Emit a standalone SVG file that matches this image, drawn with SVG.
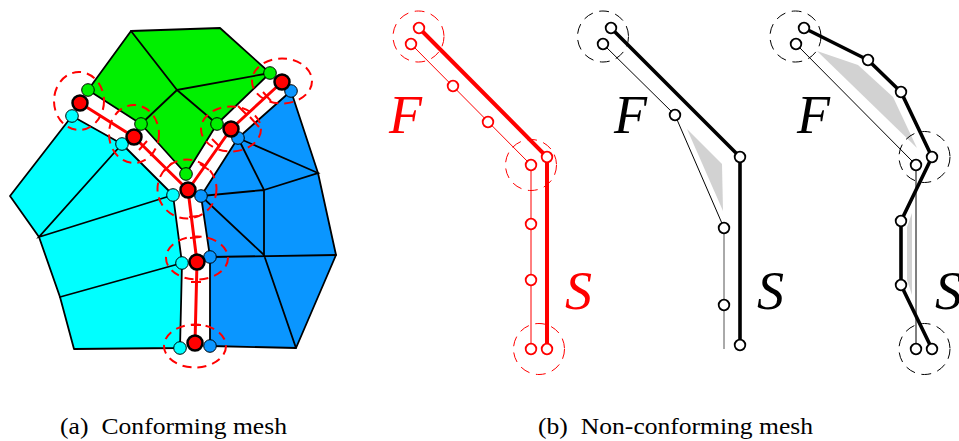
<svg xmlns="http://www.w3.org/2000/svg" width="959" height="441" viewBox="0 0 959 441">
<style>
.mesh{stroke:#000;stroke-width:1.8;stroke-linejoin:round;stroke-linecap:round}
.in{fill:none;stroke:#000;stroke-width:1.8;stroke-linecap:round}
.spine{fill:none;stroke:#f00;stroke-width:3;stroke-linejoin:round}
.tick{fill:none;stroke:#f00;stroke-width:2;stroke-linecap:butt}
.ring{fill:none;stroke:#f00;stroke-width:2;stroke-dasharray:9 6}
.rn{fill:#f00;stroke:#000;stroke-width:2.5}
.sn{stroke:#000;stroke-width:1}
.g{fill:#00f000}.c{fill:#0ff}.b{fill:#0a96ff}
.thickR{fill:none;stroke:#f00;stroke-width:4}
.thinR{fill:none;stroke:#f00;stroke-width:1}
.thickK{fill:none;stroke:#000;stroke-width:3.6;stroke-linejoin:round}
.thinK{fill:none;stroke:#000;stroke-width:1}
.ringR{fill:none;stroke:#f00;stroke-width:1;stroke-dasharray:10 6.5}
.ringK{fill:none;stroke:#000;stroke-width:1;stroke-dasharray:10 6.5}
.nR{fill:#fff;stroke:#f00;stroke-width:1.8}
.nK{fill:#fff;stroke:#000;stroke-width:1.8}
.gray{fill:#d2d2d2}
.lab{font-family:"Liberation Serif",serif;font-style:italic;font-size:54px}
.cap{font-family:"Liberation Serif",serif;font-size:23px;fill:#000}
</style>
<g id="mesh-green">
<polygon class="mesh g" points="131,31 220,28 270,73 217,124 186,174 141,124 88,90"/>
<path class="in" d="M131,31L177,90L270,73M177,90L141,124M177,90L217,124"/>
</g>
<g id="mesh-cyan">
<polygon class="mesh c" points="72,116 122,144 173,195 182,263 180,348 74,349 60,297 39,237 10,196"/>
<path class="in" d="M122,144L39,237L173,195M60,297L182,263"/>
</g>
<g id="mesh-blue">
<polygon class="mesh b" points="291,91 318,173 336,255 296,348 210,346 210,257 201,196 238,138"/>
<path class="in" d="M238,138L318,173L264,190L238,138M264,190L201,196L264,255L264,190M210,257L336,255M264,255L296,348"/>
</g>
<g id="connectors">
<path class="spine" d="M80,103L134,137L188,190L231,129L282,82"/>
<path class="spine" d="M188,190L197,262L195,343"/>
<path class="tick" d="M139,150L147,141M164,171L172,163M212,139L220,147M200,164L209,170M263,92L271,101M238,106L247,115M250,117L259,127M189,217L198,216M190,238L200,237M191,282L201,282M191,325L201,325"/>
<ellipse class="ring" cx="79" cy="101" rx="25" ry="29"/>
<ellipse class="ring" cx="134" cy="134" rx="25" ry="29"/>
<ellipse class="ring" cx="231" cy="129" rx="30" ry="22.5"/>
<ellipse class="ring" cx="282" cy="81" rx="30" ry="22.5"/>
<circle class="ring" cx="187" cy="189" r="29.5"/>
<ellipse class="ring" cx="197" cy="258" rx="31" ry="21.5"/>
<ellipse class="ring" cx="195" cy="346" rx="31" ry="21.5"/>
</g>
<g id="nodes-green">
<circle class="sn g" cx="88" cy="90" r="6.3"/><circle class="sn g" cx="141" cy="124" r="6.3"/><circle class="sn g" cx="217" cy="124" r="6.3"/><circle class="sn g" cx="270" cy="73" r="6.3"/><circle class="sn g" cx="186" cy="174" r="6.3"/>
</g>
<g id="nodes-cyan">
<circle class="sn c" cx="72" cy="116" r="6.3"/><circle class="sn c" cx="122" cy="144" r="6.3"/><circle class="sn c" cx="173" cy="195" r="6.3"/><circle class="sn c" cx="182" cy="263" r="6.3"/><circle class="sn c" cx="180" cy="348" r="6.3"/>
</g>
<g id="nodes-blue">
<circle class="sn b" cx="291" cy="91" r="6.3"/><circle class="sn b" cx="238" cy="138" r="6.3"/><circle class="sn b" cx="201" cy="196" r="6.3"/><circle class="sn b" cx="210" cy="257" r="6.3"/><circle class="sn b" cx="210" cy="346" r="6.3"/>
</g>
<g id="nodes-red">
<circle class="rn" cx="80" cy="103" r="7.5"/><circle class="rn" cx="134" cy="137" r="7.5"/><circle class="rn" cx="188" cy="190" r="7.5"/><circle class="rn" cx="231" cy="129" r="7.5"/><circle class="rn" cx="282" cy="82" r="7.5"/><circle class="rn" cx="197" cy="262" r="7.5"/><circle class="rn" cx="195" cy="343" r="7.5"/>
</g>
<g id="panel-red">
<path class="thickR" d="M419,28L547,157V349"/>
<path class="thinR" d="M411,44L531,165V349"/>
<circle class="ringR" cx="418.500" cy="36.500" r="25.500"/>
<circle class="ringR" cx="531" cy="165" r="25.500"/>
<circle class="ringR" cx="539" cy="349" r="25.500"/>
<circle class="nR" cx="419" cy="28" r="5.300"/><circle class="nR" cx="547" cy="157" r="5.300"/><circle class="nR" cx="547" cy="349" r="5.300"/>
<circle class="nR" cx="411" cy="44" r="5.300"/><circle class="nR" cx="453" cy="86" r="5.300"/><circle class="nR" cx="488" cy="122" r="5.300"/><circle class="nR" cx="531" cy="165" r="5.300"/><circle class="nR" cx="531" cy="224" r="5.300"/><circle class="nR" cx="531" cy="280" r="5.300"/><circle class="nR" cx="531" cy="349" r="5.300"/>
<text class="lab" x="389" y="133" fill="#f00">F</text>
<text class="lab" x="565" y="309" fill="#f00">S</text>
</g>
<g id="panel-black-1">
<polygon class="gray" points="687,129 722,164 723,211"/>
<path class="thickK" d="M611,28L740,157V345"/>
<path class="thinK" d="M603,44L675,115L724,228"/>
<path d="M724,228V349" fill="none" stroke="#555" stroke-width="1"/>
<circle class="ringK" cx="603" cy="36.500" r="25.500"/>
<circle class="nK" cx="611" cy="28" r="5.300"/><circle class="nK" cx="740" cy="157" r="5.300"/><circle class="nK" cx="740" cy="345" r="5.300"/>
<circle class="nK" cx="603" cy="44" r="5.300"/><circle class="nK" cx="675" cy="115" r="5.300"/><circle class="nK" cx="724" cy="228" r="5.300"/><circle class="nK" cx="724" cy="305" r="5.300"/>
<text class="lab" x="614" y="133" fill="#000">F</text>
<text class="lab" x="757" y="309" fill="#000">S</text>
</g>
<g id="panel-black-2">
<polygon class="gray" points="817,51 858,65 893,97 917,148"/>
<polygon class="gray" points="912,213 907,227 907,280 912,295"/>
<path class="thickK" d="M804,28L868,60L901,92L932,157L901,221V285L932,349"/>
<path class="thinK" d="M796,44L916,165V349"/>
<circle class="ringK" cx="795.500" cy="36.500" r="25.500"/>
<circle class="ringK" cx="924.500" cy="157" r="25.500"/>
<circle class="ringK" cx="924.500" cy="349" r="25.500"/>
<circle class="nK" cx="804" cy="28" r="5.300"/><circle class="nK" cx="868" cy="60" r="5.300"/><circle class="nK" cx="901" cy="92" r="5.300"/><circle class="nK" cx="932" cy="157" r="5.300"/><circle class="nK" cx="901" cy="221" r="5.300"/><circle class="nK" cx="901" cy="285" r="5.300"/><circle class="nK" cx="932" cy="349" r="5.300"/>
<circle class="nK" cx="796" cy="44" r="5.300"/><circle class="nK" cx="916" cy="165" r="5.300"/><circle class="nK" cx="916" cy="349" r="5.300"/>
<text class="lab" x="797" y="133" fill="#000">F</text>
<text class="lab" x="935" y="309" fill="#000">S</text>
</g>
<g id="captions">
<text class="cap" x="60" y="434" textLength="227" lengthAdjust="spacingAndGlyphs">(a)<tspan dx="6"> Conforming mesh</tspan></text>
<text class="cap" x="538" y="434" textLength="275" lengthAdjust="spacingAndGlyphs">(b)<tspan dx="6"> Non-conforming mesh</tspan></text>
</g>
</svg>
